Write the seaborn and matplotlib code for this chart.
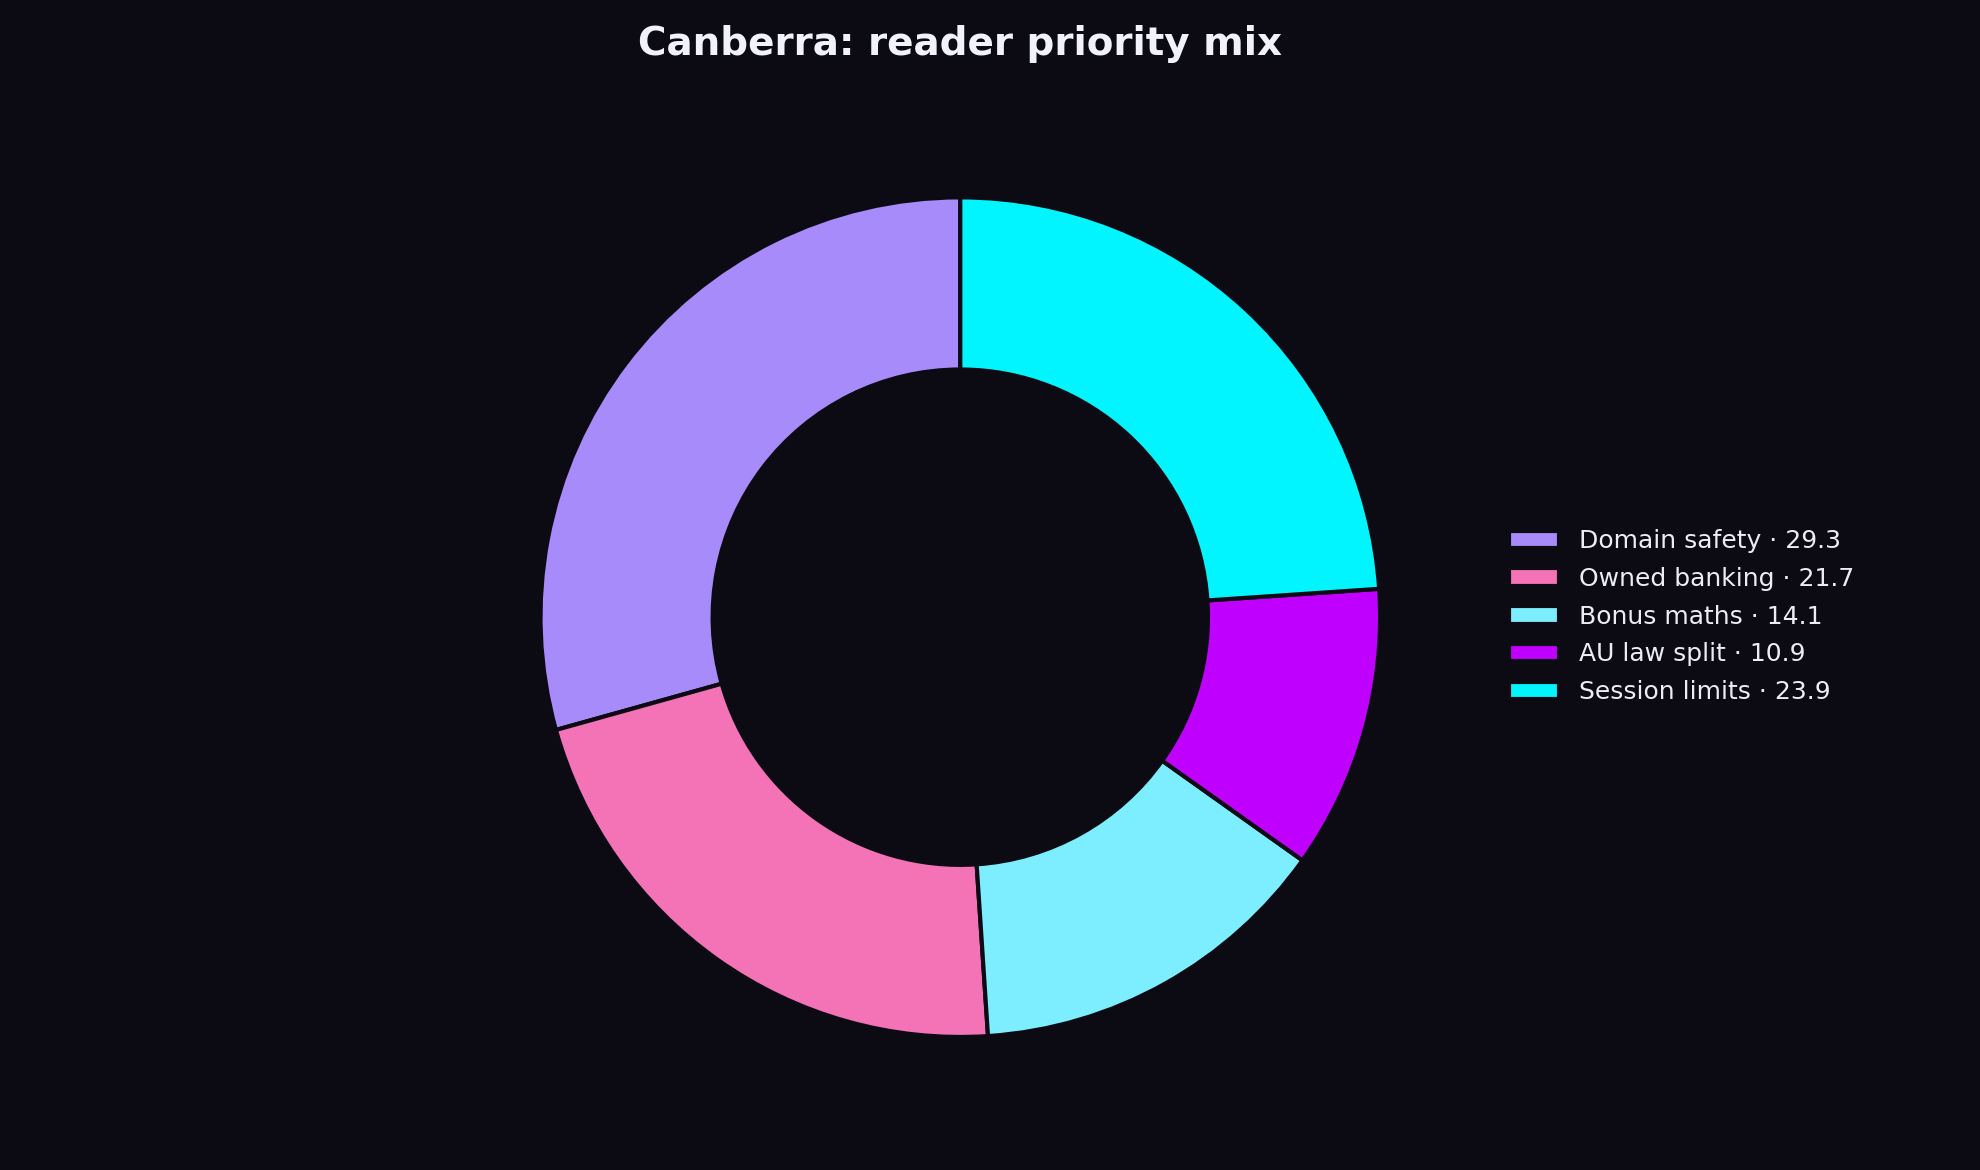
import matplotlib
matplotlib.use("Agg")
import matplotlib.pyplot as plt
import seaborn as sns

# data
categories = ["Domain safety", "Owned banking", "Bonus maths", "AU law split", "Session limits"]
values = [29.3, 21.7, 14.1, 10.9, 23.9]
colors = ["#a78bfa", "#f472b6", "#7deeff", "#bf00ff", "#00f5ff"]

BG = "#0c0b13"
TXT = "#ececf4"

sns.set_theme(style="dark", rc={
    "figure.facecolor": BG,
    "axes.facecolor": BG,
    "savefig.facecolor": BG,
    "text.color": TXT,
})
plt.rcParams["font.family"] = ["DejaVu Sans"]

fig = plt.figure(figsize=(9.9, 5.85), dpi=200)
ax = fig.add_axes([0.0, 0.024, 0.97, 0.897])

wedges, _ = ax.pie(
    values,
    colors=colors,
    startangle=90,
    counterclock=True,
    wedgeprops=dict(width=0.41, edgecolor=BG, linewidth=1.5),
)
ax.set_xlim(-1.25, 1.25)
ax.set_ylim(-1.25, 1.25)
ax.set_aspect("equal")
ax.axis("off")

labels = [f"{c} \u00b7 {v}" for c, v in zip(categories, values)]
leg = ax.legend(
    wedges, labels,
    loc="center left",
    bbox_to_anchor=(0.751, 0.473),
    bbox_transform=fig.transFigure,
    frameon=False,
    fontsize=9,
    labelspacing=0.55,
    labelcolor=TXT,
)

fig.suptitle("Canberra: reader priority mix", fontsize=14, fontweight="bold",
             color="#f2f2fa", x=0.485, y=0.962, va="center")

fig.savefig("out.png", dpi=200, facecolor=BG)
